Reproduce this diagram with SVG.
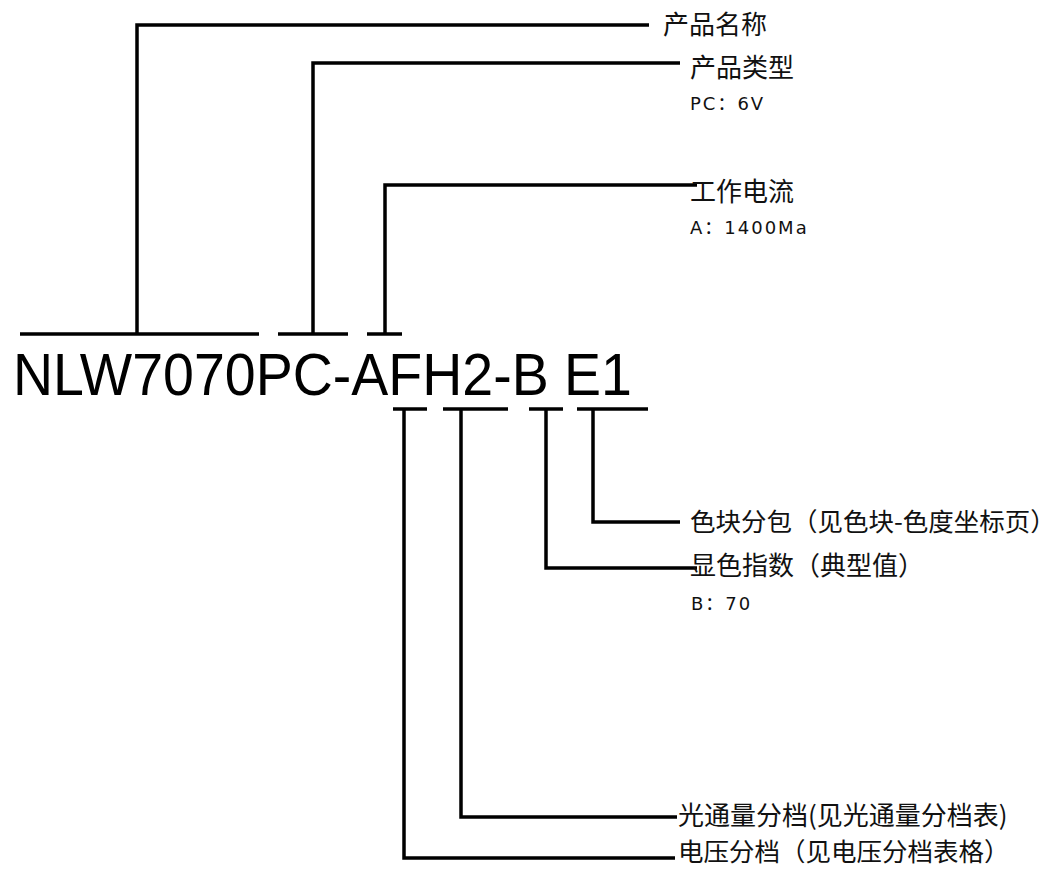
<svg xmlns="http://www.w3.org/2000/svg" width="1056" height="869" viewBox="0 0 1056 869">
<style>
.ln{fill:none;stroke:#000;stroke-width:3.5;stroke-linejoin:miter;stroke-linecap:butt}
.cjk{font-family:"Noto Sans CJK SC","Noto Sans CJK JP",sans-serif;font-size:26px;fill:#111;dominant-baseline:central}
.val{font-family:"DejaVu Sans","Noto Sans CJK SC",sans-serif;font-size:18px;fill:#111;letter-spacing:2px}
.code{font-family:"Liberation Sans","Arial",sans-serif;font-size:60px;fill:#000}
</style>
<rect width="1056" height="869" fill="#fff"/>
<g id="code">
<text class="code" x="13" y="395" textLength="619" lengthAdjust="spacingAndGlyphs">NLW7070PC-AFH2-B E1</text>
</g>
<g id="connectors">
<line class="ln" x1="20" y1="334" x2="259" y2="334"/>
<polyline class="ln" points="137,334 137,25 649,25"/>
<line class="ln" x1="278" y1="334" x2="348" y2="334"/>
<polyline class="ln" points="313,334 313,63 680,63"/>
<line class="ln" x1="367" y1="334" x2="402" y2="334"/>
<polyline class="ln" points="385,334 385,185 697,185"/>
<line class="ln" x1="393" y1="409" x2="427" y2="409"/>
<polyline class="ln" points="404,409 404,858 675,858"/>
<line class="ln" x1="443" y1="409" x2="508" y2="409"/>
<polyline class="ln" points="461,409 461,817 677,817"/>
<line class="ln" x1="529" y1="409" x2="563" y2="409"/>
<polyline class="ln" points="546,409 546,568 697,568"/>
<line class="ln" x1="577" y1="409" x2="648" y2="409"/>
<polyline class="ln" points="593,409 593,522 680,522"/>
</g>
<g id="name"><text class="cjk" x="663" y="22">产品名称</text></g>
<g id="type"><text class="cjk" x="690" y="65">产品类型</text><text class="val" x="690" y="110">PC：6V</text></g>
<g id="current"><text class="cjk" x="690" y="189">工作电流</text><text class="val" x="690" y="234">A：1400Ma</text></g>
<g id="bin"><text class="cjk" x="690" y="519" style="font-size:25.5px">色块分包（见色块-色度坐标页）</text></g>
<g id="cri"><text class="cjk" x="690" y="563">显色指数（典型值）</text><text class="val" x="691" y="610">B：70</text></g>
<g id="flux"><text class="cjk" x="678" y="813">光通量分档(见光通量分档表)</text></g>
<g id="voltage"><text class="cjk" x="678" y="849" style="font-size:25.5px">电压分档（见电压分档表格）</text></g>
</svg>
